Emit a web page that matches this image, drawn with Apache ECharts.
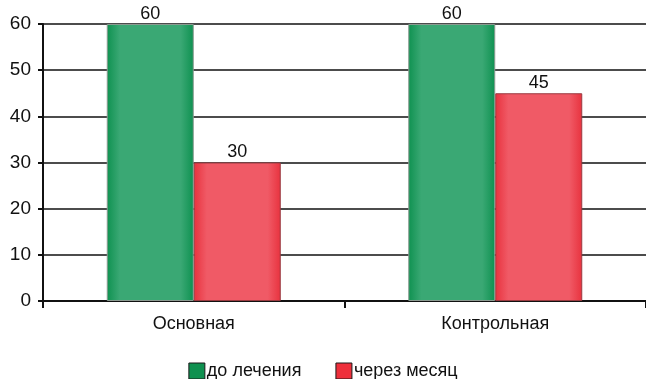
<!DOCTYPE html>
<html>
<head>
<meta charset="utf-8">
<script src="https://cdn.jsdelivr.net/npm/echarts@6/dist/echarts.min.js"></script>
<style>
  html, body { margin: 0; padding: 0; background: #fff; }
  #chart { width: 646px; height: 379px; }
</style>
</head>
<body>
<div id="chart"></div>
<script>
var categories = ['Основная', 'Контрольная']
var seriesNames = ['до лечения', 'через месяц']
var beforeValues = [60, 60]
var afterValues = [30, 45]

function barGradient(edge, mid) {
  return new echarts.graphic.LinearGradient(0, 0, 1, 0, [
    { offset: 0, color: edge },
    { offset: 0.15, color: mid },
    { offset: 0.85, color: mid },
    { offset: 1, color: edge }
  ])
}

var chart = echarts.init(document.getElementById('chart'))
chart.setOption({
  animation: false,
  textStyle: { fontFamily: 'Liberation Sans, Arial, sans-serif' },
  grid: { left: 43, right: 0, top: 24, bottom: 78 },
  legend: {
    data: [
      { name: seriesNames[0], itemStyle: { color: '#0f9150', borderColor: '#1a1a1a', borderWidth: 1 } },
      { name: seriesNames[1], itemStyle: { color: '#ee2f3b', borderColor: '#1a1a1a', borderWidth: 1 } }
    ],
    top: 357,
    left: 'center',
    icon: 'rect',
    itemWidth: 16,
    itemHeight: 16,
    itemGap: 34,
    textStyle: { fontSize: 18, color: '#111', padding: [0, 0, 0, -3] }
  },
  xAxis: {
    type: 'category',
    data: categories,
    axisLine: { lineStyle: { color: '#111', width: 2 } },
    axisTick: { show: true, length: 7, lineStyle: { color: '#111', width: 2 } },
    axisLabel: { fontSize: 18, color: '#111', margin: 14 }
  },
  yAxis: {
    type: 'value',
    min: 0,
    max: 60,
    interval: 10,
    axisLine: { show: true, lineStyle: { color: '#111', width: 2 } },
    axisTick: { show: true, length: 5, lineStyle: { color: '#111', width: 2 } },
    axisLabel: { fontSize: 19, color: '#111', margin: 12 },
    splitLine: { lineStyle: { color: '#111', width: 1.5 } }
  },
  series: [{
    name: seriesNames[0],
    type: 'bar',
    data: beforeValues,
    barWidth: 87,
    barGap: '0%',
    itemStyle: { color: barGradient('#0e9150', '#3aa874'), borderColor: '#8a9a90', borderWidth: 1 },
    label: { show: true, position: 'top', fontSize: 18, color: '#111', distance: 1 }
  },
  {
    name: seriesNames[1],
    type: 'bar',
    data: afterValues,
    barWidth: 87,
    itemStyle: { color: barGradient('#e8323e', '#f05a66'), borderColor: '#9a3a40', borderWidth: 1 },
    label: { show: true, position: 'top', fontSize: 18, color: '#111', distance: 1 }
  }]
})
</script>
</body>
</html>
